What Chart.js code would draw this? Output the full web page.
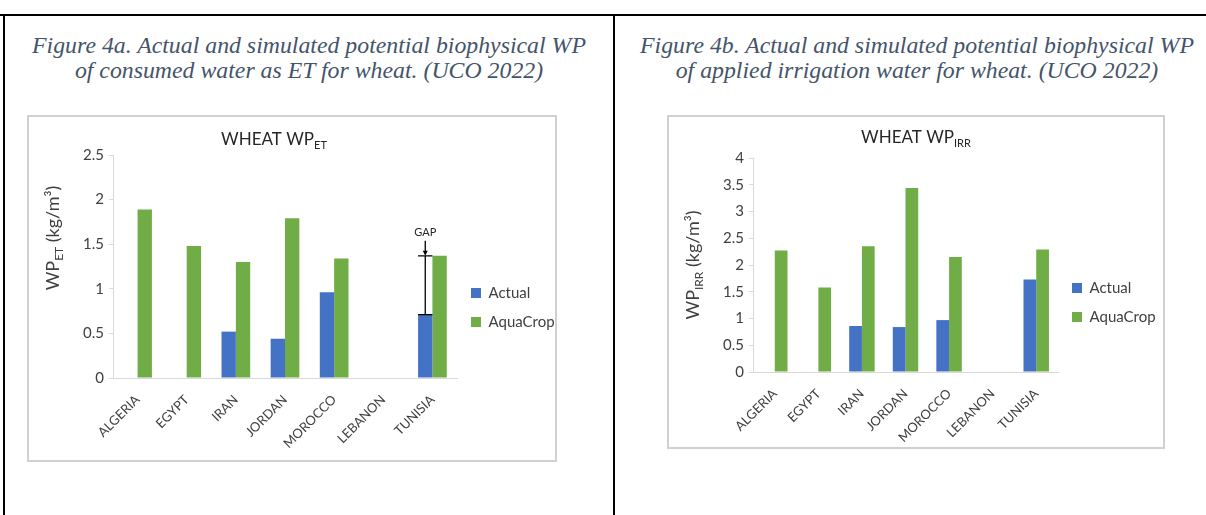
<!DOCTYPE html>
<html>
<head>
<meta charset="utf-8">
<script src="https://cdn.jsdelivr.net/npm/chart.js@4.4.1/dist/chart.umd.min.js"></script>
<style>
  html, body { margin: 0; padding: 0; overflow: hidden; background: #fff; }
  body { width: 1206px; height: 515px; position: relative; }
  .rule { position: absolute; background: #000; }
  .caption { position: absolute; font-family: "Liberation Serif", serif; font-style: italic;
             font-size: 23.8px; line-height: 25px; color: #44546A; text-align: center; white-space: nowrap; }
  .box { position: absolute; border: 2px solid #d0d0d0; box-sizing: border-box; background: #fff; }
  .box canvas { position: absolute; left: 0; top: 0; }
</style>
</head>
<body>
<div class="rule" style="left:0;top:14px;width:1206px;height:2px"></div>
<div class="rule" style="left:3px;top:14px;width:2px;height:501px"></div>
<div class="rule" style="left:613px;top:14px;width:2px;height:501px"></div>

<div class="caption" style="left:5px;top:33px;width:608px">Figure 4a. Actual and simulated potential biophysical WP<br>of consumed water as ET for wheat. (UCO 2022)</div>
<div class="caption" style="left:615px;top:33px;width:604px">Figure 4b. Actual and simulated potential biophysical WP<br>of applied irrigation water for wheat. (UCO 2022)</div>

<div class="box" style="left:27px;top:115px;width:530px;height:347px"><canvas id="etChart" width="526" height="343"></canvas></div>
<div class="box" style="left:667px;top:115px;width:498px;height:334px"><canvas id="irrChart" width="494" height="330"></canvas></div>

<script>
var countries = ['ALGERIA', 'EGYPT', 'IRAN', 'JORDAN', 'MOROCCO', 'LEBANON', 'TUNISIA'];

// WP of consumed water (ET), kg/m3
var etActual = [null, null, 0.52, 0.44, 0.96, null, 0.71];
var etAquaCrop = [1.89, 1.48, 1.30, 1.79, 1.34, null, 1.37];
var etTicks = [0, 0.5, 1, 1.5, 2, 2.5];

// WP of applied irrigation water, kg/m3
var irrActual = [null, null, 0.86, 0.84, 0.97, null, 1.73];
var irrAquaCrop = [2.27, 1.58, 2.35, 3.44, 2.15, null, 2.29];
var irrTicks = [0, 0.5, 1, 1.5, 2, 2.5, 3, 3.5, 4];

var gapCountry = 'TUNISIA';

var BLUE = '#4472C4';
var GREEN = '#70AD47';
var AXIS = '#d9d9d9';
var TEXT = '#404040';
var FONT = 'Lato, "Open Sans", sans-serif';

Chart.defaults.font.family = FONT;

// draws text made of pieces, e.g. normal + subscript
function drawParts(ctx, parts, x, y) {
  var total = 0;
  parts.forEach(function (p) {
    ctx.font = p[1] + 'px ' + FONT;
    total += ctx.measureText(p[0]).width;
  });
  var cx = x - total / 2;
  ctx.textAlign = 'left';
  ctx.textBaseline = 'alphabetic';
  parts.forEach(function (p) {
    ctx.font = p[1] + 'px ' + FONT;
    ctx.fillText(p[0], cx, y + (p[2] || 0));
    cx += ctx.measureText(p[0]).width;
  });
}

var decorPlugin = {
  id: 'decor',
  afterDraw: function (chart) {
    var o = chart.options.plugins.decor;
    if (!o) return;
    var ctx = chart.ctx;
    ctx.save();
    ctx.fillStyle = '#262626';
    drawParts(ctx, o.title, o.titleX, o.titleY);
    ctx.fillStyle = TEXT;
    ctx.translate(o.yTitleX, o.yTitleY);
    ctx.rotate(-Math.PI / 2);
    drawParts(ctx, o.yTitle, 0, 0);
    ctx.restore();
  }
};

var gapPlugin = {
  id: 'gap',
  afterDatasetsDraw: function (chart) {
    var o = chart.options.plugins.gap;
    if (!o) return;
    var i = chart.data.labels.indexOf(o.category);
    var bar = chart.getDatasetMeta(0).data[i];
    var y = chart.scales.y;
    var x = bar.x;
    var yLow = y.getPixelForValue(chart.data.datasets[0].data[i]);
    var yHigh = y.getPixelForValue(chart.data.datasets[1].data[i]);
    var half = bar.width / 2;
    var ctx = chart.ctx;
    ctx.save();
    ctx.strokeStyle = '#000';
    ctx.lineWidth = 1.3;
    ctx.beginPath();
    ctx.moveTo(x, yLow); ctx.lineTo(x, yHigh);
    ctx.moveTo(x - half, yLow); ctx.lineTo(x + half, yLow);
    ctx.moveTo(x - half, yHigh); ctx.lineTo(x + half, yHigh);
    ctx.moveTo(x, yHigh - 15); ctx.lineTo(x, yHigh - 2);
    ctx.stroke();
    ctx.fillStyle = '#000';
    ctx.beginPath();
    ctx.moveTo(x - 2.5, yHigh - 5); ctx.lineTo(x + 2.5, yHigh - 5); ctx.lineTo(x, yHigh);
    ctx.closePath();
    ctx.fill();
    ctx.font = '11px ' + FONT;
    ctx.textAlign = 'center';
    ctx.textBaseline = 'alphabetic';
    ctx.fillStyle = '#262626';
    ctx.fillText('GAP', x, yHigh - 20);
    ctx.restore();
  }
};

function makeChart(id, actual, aquaCrop, ticks, sizes, decor, gap) {
  var ctx = document.getElementById(id).getContext('2d');
  return new Chart(ctx, {
    type: 'bar',
    data: {
      labels: countries,
      datasets: [{
        label: 'Actual',
        data: actual,
        backgroundColor: BLUE,
        borderWidth: 0,
        categoryPercentage: 0.584,
        barPercentage: 1
      }, {
        label: 'AquaCrop',
        data: aquaCrop,
        backgroundColor: GREEN,
        borderWidth: 0,
        categoryPercentage: 0.584,
        barPercentage: 1
      }]
    },
    options: {
      responsive: false,
      animation: false,
      devicePixelRatio: 1,
      layout: { padding: { top: sizes.top, right: 0, bottom: 0, left: 0 } },
      scales: {
        x: {
          afterFit: function (s) { s.height = sizes.xHeight; },
          grid: { display: false },
          border: { display: true, color: AXIS, width: 1 },
          ticks: { color: TEXT, font: { size: 13 }, minRotation: 45, maxRotation: 45, padding: 6 }
        },
        y: {
          min: ticks[0],
          max: ticks[ticks.length - 1],
          afterFit: function (s) { s.width = sizes.yWidth; },
          afterBuildTicks: function (s) {
            s.ticks = ticks.map(function (v) { return { value: v }; });
          },
          grid: { drawOnChartArea: false, color: AXIS, tickLength: 4 },
          border: { display: true, color: AXIS, width: 1 },
          ticks: {
            color: TEXT, font: { size: 15 }, padding: 5,
            callback: function (v) { return String(v); }
          }
        }
      },
      plugins: {
        legend: {
          position: 'right',
          align: 'center',
          maxWidth: sizes.legend,
          labels: { color: TEXT, font: { size: 15 }, boxWidth: 10, boxHeight: 10, padding: 14 }
        },
        tooltip: { enabled: false },
        decor: decor,
        gap: gap
      }
    },
    plugins: [decorPlugin, gapPlugin]
  });
}

makeChart('etChart', etActual, etAquaCrop, etTicks,
  { top: 38, xHeight: 82, yWidth: 84, legend: 98 },
  {
    title: [['WHEAT WP', 17], ['ET', 11, 4]],
    titleX: 245, titleY: 28,
    yTitle: [['WP', 18], ['ET', 12, 4], [' (kg/m\u00b3)', 18]],
    yTitleX: 30, yTitleY: 121
  },
  { category: gapCountry });

makeChart('irrChart', irrActual, irrAquaCrop, irrTicks,
  { top: 41, xHeight: 75, yWidth: 84, legend: 105 },
  {
    title: [['WHEAT WP', 17], ['IRR', 11, 4]],
    titleX: 247, titleY: 26,
    yTitle: [['WP', 18], ['IRR', 12, 4], [' (kg/m\u00b3)', 18]],
    yTitleX: 30, yTitleY: 148
  },
  null);
</script>
</body>
</html>
